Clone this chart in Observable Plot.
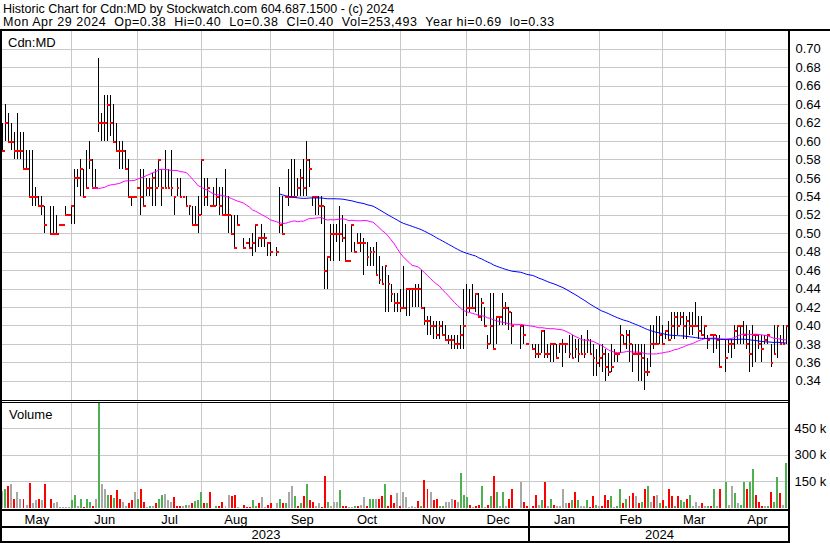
<!DOCTYPE html>
<html><head><meta charset="utf-8">
<script src="https://cdn.jsdelivr.net/npm/d3@7"></script>
<script src="https://cdn.jsdelivr.net/npm/@observablehq/plot@0.6"></script>
<style>
body{margin:0;background:#fff;}
#wrap{position:relative;width:830px;height:543px;overflow:hidden;background:#fff;font-family:"Liberation Sans",Arial,sans-serif;color:#000;}
.ln{position:absolute;background:#000;}
.txt{position:absolute;font-size:13px;white-space:pre;line-height:13px;}
#price,#vol{position:absolute;left:0;}
#price{top:0px;}
#vol{top:400px;}
</style></head><body>
<div id="wrap">
  <div id="price"></div>
  <div id="vol"></div>
  <div class="txt" style="left:3px;top:3px;font-size:12.5px;">Historic Chart for Cdn:MD by Stockwatch.com 604.687.1500 - (c) 2024</div>
  <div class="txt" style="left:3px;top:16px;font-size:12.5px;letter-spacing:0.53px;">Mon Apr 29 2024  Op=0.38  Hi=0.40  Lo=0.38  Cl=0.40  Vol=253,493  Year hi=0.69  lo=0.33</div>
  <div class="txt" style="left:8px;top:36px;">Cdn:MD</div>
  <div class="txt" style="left:9px;top:408px;">Volume</div>
  <div class="ln" style="left:0;top:29px;width:830px;height:2px;"></div>
  <div class="ln" style="left:0;top:29px;width:2px;height:514px;"></div>
  <div class="ln" style="left:788px;top:29px;width:2px;height:514px;"></div>
  <div class="ln" style="left:0;top:400px;width:790px;height:1px;"></div>
  <div class="ln" style="left:0;top:402px;width:790px;height:1px;"></div>
  <div class="ln" style="left:0;top:509px;width:790px;height:2px;"></div>
  <div class="ln" style="left:0;top:526px;width:790px;height:2px;"></div>
  <div class="ln" style="left:0;top:541px;width:790px;height:2px;"></div>
  <div class="ln" id="yearsep" style="top:509px;width:2px;height:34px;"></div>
</div>
<script>
// ---- data (one slot per weekday, 1 May 2023 .. 29 Apr 2024; null = no trade) ----
const hi = [
.62,.64,.63,.62,.61,.63,.61,.61,.59,.59,
.59,.55,.54,.54,.53,null,.53,.53,.52,.51,
.51,.53,.52,.53,.57,.57,.58,.57,.59,.60,
.58,.57,.69,.63,.65,.65,.65,.64,.62,.60,
.60,.59,.58,.54,.54,.55,.57,.57,.56,.56,
.565,.57,.58,.57,.59,.57,.59,.54,.56,.56,
.54,.54,.53,.53,.53,.54,.58,.56,.56,.53,
.55,.56,.55,.55,.57,.54,.52,.52,.52,null,
.495,.49,.495,.50,.51,.495,.51,.50,.49,.49,
null,.485,.55,.54,.54,.57,.58,.58,.56,.57,
.58,.60,.58,.54,.54,.54,.54,.53,.475,.51,
.51,.51,.53,.52,.51,.47,.51,.49,.50,.50,
.495,.49,.485,.485,.49,.475,.465,.465,.455,.445,
.435,.435,.44,.465,.44,.44,.44,.445,.445,.46,
.42,.41,.41,.405,.405,.405,.405,.40,.39,.39,
.39,.39,.40,.44,.445,.44,.445,.435,.435,.43,
.42,.39,.435,.435,.41,.41,.435,.425,.42,.415,
null,null,.40,.40,.38,null,.38,.38,.38,.395,
.395,.38,.38,.38,.38,.38,.385,.38,.39,.39,
.385,.385,.39,.385,.395,.385,.38,.375,.38,.38,
.375,.37,.38,.375,.37,.40,.39,.395,.395,.38,
.38,.38,.38,.38,.365,.40,.40,.41,.41,.40,
.395,.405,.415,.415,.415,.415,.415,.41,.415,.415,
.425,.41,.41,.40,.39,.39,.39,.39,.39,null,
.385,.385,.385,.40,.40,.40,.405,.40,.395,.40,
.39,.39,.39,.39,.39,.38,.40,.40,.39,.40,.40];
const lo = [
.59,.60,.60,.59,.58,.58,.58,.57,.57,.54,
.53,.53,.53,.52,.50,null,.50,.50,.50,.51,
.51,.52,.52,.51,.51,.55,.54,.54,.55,.57,
.55,.55,.61,.60,.60,.60,.605,.60,.59,.57,
.57,.57,.54,.53,.54,.55,.52,.53,.54,.54,
.53,.53,.55,.53,.55,.55,.54,.52,.54,.54,
.54,.53,.52,.51,.51,.50,.52,.53,.53,.53,
.53,.53,.52,.52,.52,.50,.50,.485,.51,null,
.485,.49,.485,.475,.48,.485,.485,.485,.475,.475,
null,.475,.50,.50,.54,.53,.54,.54,.54,.54,
.54,.54,.55,.53,.52,.52,.51,.44,.44,.47,
.47,.49,.47,.49,.47,.47,.48,.48,.49,.48,
.455,.465,.465,.465,.455,.445,.445,.415,.415,.425,
.415,.415,.415,.42,.41,.41,.42,.42,.42,.42,
.40,.39,.39,.385,.385,.385,.39,.385,.38,.375,
.375,.375,.375,.375,.41,.415,.42,.415,.41,.405,
.40,.375,.38,.375,.38,.40,.40,.40,.395,.38,
null,null,.375,.38,.38,null,.375,.365,.365,.37,
.365,.365,.36,.36,.365,.37,.355,.37,.365,.365,
.365,.36,.37,.365,.37,.37,.345,.345,.355,.35,
.34,.345,.35,.36,.36,.37,.38,.375,.36,.35,
.37,.34,.34,.33,.345,.355,.375,.38,.38,.38,
.385,.385,.385,.385,.39,.40,.385,.385,.39,.39,
.40,.385,.39,.385,.375,.39,.37,.375,.355,null,
.35,.37,.365,.375,.38,.38,.38,.375,.35,.355,
.36,.375,.36,.38,.38,.355,.37,.365,.38,.38,.38];
const cl = [
.59,.62,.60,.60,.59,.59,.59,.57,.57,.54,
.54,.54,.53,.53,.51,null,.50,.50,.50,.51,
.51,.52,.52,.53,.56,.56,.57,.54,.55,.58,
.55,.55,.62,.62,.62,.64,.62,.60,.59,.59,
.59,.57,.54,.54,.54,.55,.54,.53,.55,.55,
.56,.55,.58,.55,.55,.55,.55,.54,.55,.54,
.54,.53,.53,.51,.51,.52,.58,.54,.55,.53,
.53,.54,.53,.52,.52,.52,.50,.485,.51,null,
.485,.49,.485,.49,.51,.495,.495,.495,.49,.48,
null,.48,.51,.50,.54,.54,.54,.54,.55,.56,
.55,.58,.57,.54,.54,.53,.53,.46,.475,.50,
.50,.50,.50,.495,.47,.47,.51,.48,.49,.49,
.49,.475,.48,.48,.455,.45,.445,.465,.445,.435,
.425,.425,.42,.42,.44,.44,.44,.44,.44,.42,
.405,.405,.40,.40,.39,.40,.39,.385,.385,.385,
.38,.38,.39,.40,.42,.42,.42,.435,.41,.425,
.40,.38,.40,.375,.41,.41,.42,.42,.415,.40,
null,null,.40,.39,.38,null,.375,.37,.37,.395,
.37,.37,.38,.38,.365,.38,.38,.38,.37,.365,
.375,.37,.37,.37,.385,.37,.365,.36,.365,.37,
.355,.35,.355,.37,.37,.39,.38,.39,.38,.37,
.37,.37,.365,.35,.35,.38,.38,.38,.39,.38,
.395,.385,.40,.41,.40,.41,.40,.405,.40,.40,
.40,.395,.39,.40,.385,.39,.39,.385,.355,null,
.365,.38,.38,.395,.40,.40,.39,.38,.37,.39,
.39,.38,.375,.385,.39,.36,.37,.40,.38,.38,.40];
// volume in thousands of shares
const vol = [
93,108,122,131,46,87,51,51,17,137,
23,40,51,40,131,null,51,23,29,2,
2,2,2,40,74,8,51,2,51,29,
11,51,650,131,103,74,74,55,97,46,
29,8,27,40,86,46,103,29,2,6,
6,23,51,70,78,40,29,57,8,8,
8,17,17,23,36,40,86,23,23,86,
null,6,6,29,11,74,63,74,2,null,
17,2,2,40,11,23,59,2,17,23,
null,23,51,23,23,86,125,68,11,23,
63,131,44,29,6,23,2,182,34,11,
34,34,97,11,11,2,2,11,6,17,
57,11,46,46,46,51,63,131,11,74,
23,80,11,86,57,2,6,2,36,6,
154,108,91,40,46,6,6,34,34,46,
40,29,194,74,57,17,1,6,17,125,
2,17,68,182,86,11,86,6,46,103,
null,null,148,34,6,null,11,74,17,40,
148,11,46,17,11,11,108,23,23,40,
91,40,11,11,40,2,63,17,6,11,
74,40,68,1,6,108,23,46,63,80,
63,23,34,108,120,34,63,74,23,40,
11,108,68,11,68,40,34,46,74,6,
29,6,23,11,6,11,103,6,108,null,
143,17,120,80,23,17,148,103,148,222,
74,34,11,11,6,86,34,171,80,17,256];
// u = up day (green), d = down day (red), n = unchanged (grey), . = no trade
const volDir = [..."nudndnndnd" + "nndnd.dnnn" + "nnnuunuduu" + "dnunnududd" + "nnddnuddnu" +
  "nduunnnddd" + "nunduuudud" + ".uddnnddn." + "ddduudnndd" + ".nudunnudu" +
  "duddnnddun" + "nnuddnnudn" + "nduunddudd" + "dndnnnnndu" + "ddndduunnn" +
  "dnuuudnddu" + "ndudunundd" + "..ndd.ddnu" + "dnudnnnndu" + "dunnuddund" +
  "ddunuududd" + "ndudundnud" + "udduduudun" + "nndnudund." + "unnunuuduu" + "dddnuduudnu"];
const monthNames = ["May","Jun","Jul","Aug","Sep","Oct","Nov","Dec","Jan","Feb","Mar","Apr"];
const monthStart = [0,23,45,66,89,110,132,154,175,198,219,240];
const years = ["2023","2024"];
const yearStart = [0,175];
const priceTicks = [0.34,0.36,0.38,0.40,0.42,0.44,0.46,0.48,0.50,0.52,0.54,0.56,0.58,0.60,0.62,0.64,0.66,0.68,0.70];
const volTicks = [150,300,450];

// ---- build ----
const N = hi.length, END = 261;
const bars = d3.range(N).filter(i => cl[i] != null).map(i => ({i, h: hi[i], l: lo[i], c: cl[i]}));
function sma(n) {
  const out = [];
  for (let k = n - 1; k < bars.length; k++) {
    let s = 0;
    for (let j = k - n + 1; j <= k; j++) s += bars[j].c;
    out.push({i: bars[k].i, v: s / n});
  }
  return out;
}
const ma30 = sma(30), ma90 = sma(90);
const volData = d3.range(N).filter(i => vol[i] != null).map(i => ({i, v: vol[i], dir: volDir[i]}));
const volColor = {u: "#4fb04f", d: "#ff0000", n: "#a8a8a8"};
const monthMid = monthNames.map((m, k) => (monthStart[k] + (k + 1 < monthStart.length ? monthStart[k + 1] : END)) / 2);
const yearMid = years.map((y, k) => (yearStart[k] + (k + 1 < yearStart.length ? yearStart[k + 1] : END)) / 2);

const xOpt = {type: "linear", domain: [-0.1, END], range: [1.4, 788.6]};
const font = "'Liberation Sans', Arial, sans-serif";
const grid = "#c8c8c8";

const price = Plot.plot({
  width: 830, height: 400,
  marginTop: 31, marginBottom: 0, marginLeft: 2, marginRight: 42,
  x: {...xOpt, axis: null},
  y: {domain: [0.34, 0.70], range: [380.8, 48.8]},
  style: {background: "transparent", fontFamily: font, fontSize: "13px", color: "#000", overflow: "visible"},
  marks: [
    Plot.ruleY(priceTicks, {stroke: grid, strokeWidth: 1, shapeRendering: "crispEdges"}),
    Plot.ruleX(monthStart.slice(1), {stroke: grid, strokeWidth: 1, shapeRendering: "crispEdges"}),
    Plot.ruleX(bars, {x: "i", y1: "l", y2: "h", stroke: "#000", strokeWidth: 1, shapeRendering: "crispEdges"}),
    Plot.ruleY(bars, {y: "c", x1: "i", x2: d => d.i + 0.95, stroke: "#ff0000", strokeWidth: 2, shapeRendering: "crispEdges"}),
    Plot.line(ma30, {x: "i", y: "v", stroke: "#ff00ff", strokeWidth: 1}),
    Plot.line(ma90, {x: "i", y: "v", stroke: "#0000ff", strokeWidth: 1}),
    Plot.axisY(priceTicks, {anchor: "right", tickSize: 0, tickPadding: 7, tickFormat: d => d.toFixed(2), label: null, fontSize: 13})
  ]
});
document.getElementById("price").appendChild(price);

const volPlot = Plot.plot({
  width: 830, height: 143,
  marginTop: 3, marginBottom: 34, marginLeft: 2, marginRight: 42,
  x: {...xOpt, axis: null},
  y: {domain: [0, 600], range: [107.5, 2.1]},
  style: {background: "transparent", fontFamily: font, fontSize: "13px", color: "#000", overflow: "visible"},
  marks: [
    Plot.ruleY(volTicks, {stroke: grid, strokeWidth: 1, shapeRendering: "crispEdges"}),
    Plot.ruleX(monthStart.slice(1), {stroke: grid, strokeWidth: 1, shapeRendering: "crispEdges"}),
    Plot.rect(volData, {x1: d => d.i - 0.1, x2: d => d.i + 0.56, y1: 0, y2: "v", fill: d => volColor[d.dir], clip: true, shapeRendering: "crispEdges"}),
    Plot.axisY(volTicks, {anchor: "right", tickSize: 0, tickPadding: 6, tickFormat: d => d + " k", label: null, fontSize: 13}),
    Plot.text(monthNames, {x: (d, k) => monthMid[k], text: d => d, frameAnchor: "bottom", dy: 10, fontSize: 13, lineAnchor: "middle", fill: "#000"}),
    Plot.text(years, {x: (d, k) => yearMid[k], text: d => d, frameAnchor: "bottom", dy: 25, fontSize: 13, lineAnchor: "middle", fill: "#000"})
  ]
});
document.getElementById("vol").appendChild(volPlot);

const sepX = volPlot.scale("x").apply(yearStart[1]);
document.getElementById("yearsep").style.left = Math.round(sepX - 1) + "px";
</script>
</body></html>
